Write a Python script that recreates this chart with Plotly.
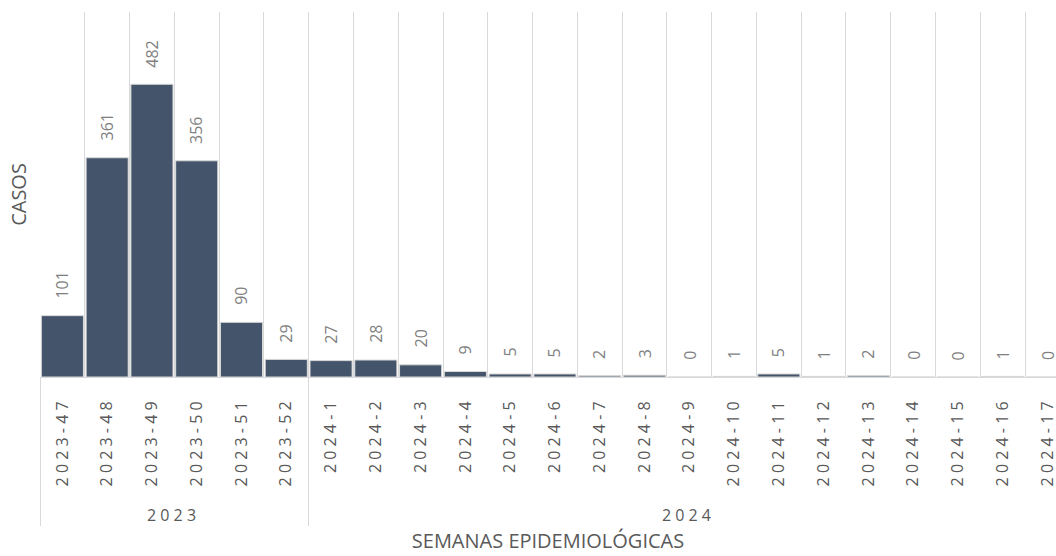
import plotly.graph_objects as go

years = ["2023"] * 6 + ["2024"] * 17
weeks = ["2023-47", "2023-48", "2023-49", "2023-50", "2023-51", "2023-52",
         "2024-1", "2024-2", "2024-3", "2024-4", "2024-5", "2024-6", "2024-7",
         "2024-8", "2024-9", "2024-10", "2024-11", "2024-12", "2024-13",
         "2024-14", "2024-15", "2024-16", "2024-17"]
cases = [101, 361, 482, 356, 90, 29, 27, 28, 20, 9, 5, 5, 2, 3, 0, 1, 5, 1, 2, 0, 0, 1, 0]

FONT = "Open Sans"
BAR = "#44546a"


def spaced(s):
    # Excel-style expanded character spacing
    return " ".join(s)


year_lbl = ["<br>" + spaced(y) for y in years]
week_lbl = [spaced(w) for w in weeks]

fig = go.Figure()
fig.add_trace(go.Bar(
    x=[year_lbl, week_lbl], y=cases,
    marker=dict(color=BAR, line=dict(color="#d9d9d9", width=1)),
    hoverinfo="y",
))

annotations = []
for yl, wl, v in zip(year_lbl, week_lbl, cases):
    annotations.append(dict(
        x=[yl, wl], y=v, xref="x", yref="y", text=str(v), showarrow=False,
        textangle=-90, yanchor="bottom", xanchor="center", yshift=15,
        font=dict(family=FONT, size=16, color="#7f7f7f"),
    ))

fig.update_layout(
    width=1056, height=556,
    margin=dict(l=40, r=0, t=12, b=179),
    paper_bgcolor="white", plot_bgcolor="white",
    bargap=0.06,
    showlegend=False,
    font=dict(family=FONT, color="#595959"),
    annotations=annotations,
    xaxis=dict(
        type="multicategory",
        range=[-0.5, 22.19],
        automargin=False,
        tickangle=-90,
        tickson="boundaries",
        ticklabelstandoff=17,
        showgrid=True, gridcolor="#d9d9d9", gridwidth=1,
        showline=True, linecolor="#d9d9d9", linewidth=1,
        showdividers=True, dividercolor="#d9d9d9", dividerwidth=1,
        ticks="", tickfont=dict(family=FONT, size=16, color="#595959"),
        title=dict(text="SEMANAS EPIDEMIOLÓGICAS", standoff=9,
                   font=dict(family=FONT, size=20, color="#595959")),
    ),
    yaxis=dict(
        range=[0, 601],
        showgrid=False, zeroline=False, showticklabels=False, ticks="",
        title=dict(text="CASOS", standoff=7,
                   font=dict(family=FONT, size=20, color="#595959")),
    ),
)

fig.write_html("out.html", config={"displayModeBar": False},
               post_script="document.body.style.margin='0';")
